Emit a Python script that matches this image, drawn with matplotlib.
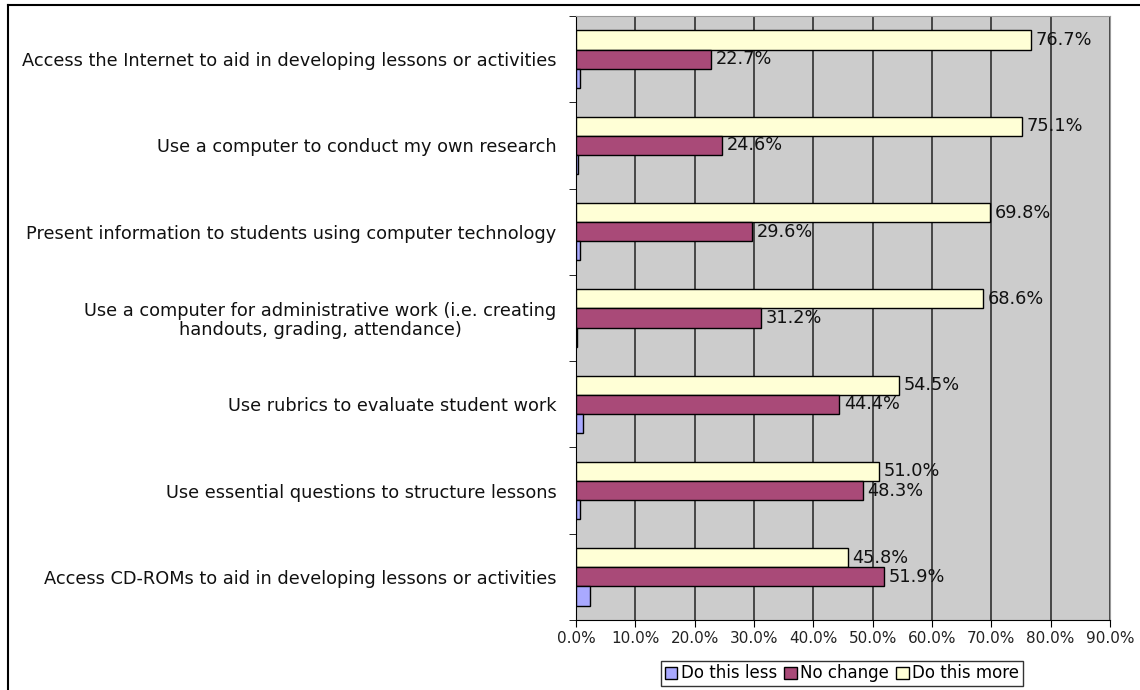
import numpy as np
import matplotlib.pyplot as plt
from matplotlib.lines import Line2D

# survey items, top to bottom
items = ['Access the Internet to aid in developing lessons or activities',
         'Use a computer to conduct my own research',
         'Present information to students using computer technology',
         'Use a computer for administrative work (i.e. creating\nhandouts, grading, attendance)',
         'Use rubrics to evaluate student work',
         'Use essential questions to structure lessons',
         'Access CD-ROMs to aid in developing lessons or activities']

less = [0.6, 0.3, 0.6, 0.2, 1.1, 0.7, 2.3]
no_change = [22.7, 24.6, 29.6, 31.2, 44.4, 48.3, 51.9]
more = [76.7, 75.1, 69.8, 68.6, 54.5, 51.0, 45.8]

c_less = '#a9a9ff'
c_none = '#a94a78'
c_more = '#ffffd6'

fig = plt.figure(figsize=(11.4, 6.9), dpi=100)
ax = fig.add_axes([576/1140, 1-620/690, (1110-576)/1140, (620-16)/690])
ax.set_facecolor('#cccccc')

y = np.arange(len(items))
h = 0.222
b_more = ax.barh(y - h, more, height=h, color=c_more, edgecolor='black', linewidth=1, zorder=3)
b_none = ax.barh(y, no_change, height=h, color=c_none, edgecolor='black', linewidth=1, zorder=3)
b_less = ax.barh(y + h, less, height=h, color=c_less, edgecolor='black', linewidth=1, zorder=3)

for bars, vals in [(b_more, more), (b_none, no_change)]:
    for rect, v in zip(bars, vals):
        ax.text(v + 0.8, rect.get_y() + rect.get_height()/2, '%.1f%%' % v,
                va='center', ha='left', fontsize=12.8, color='#111111', zorder=4)

ax.set_xlim(0, 90)
ax.set_ylim(len(items) - 0.5, -0.5)
ax.set_xticks(np.arange(0, 91, 10))
ax.set_xticklabels(['%.1f%%' % v for v in np.arange(0, 91, 10)], fontsize=11, color='#222222')
ax.xaxis.grid(True, color='#222222', linewidth=1.1, zorder=1)

# category labels at centers, tick marks at the boundaries
ax.set_yticks(y)
ax.set_yticklabels(items, fontsize=12.8, color='#111111')
ax.tick_params(axis='y', length=0, pad=14)
ax.set_yticks(np.arange(len(items) + 1) - 0.5, minor=True)
ax.tick_params(axis='y', which='minor', length=5, direction='out', color='black')
ax.tick_params(axis='x', length=5, direction='out', color='black', pad=3)
for t in ax.get_yticklabels():
    t.set_multialignment('center')
    t.set_linespacing(1.05)

ax.spines['left'].set_color('black')
ax.spines['bottom'].set_color('black')
ax.spines['top'].set_color('#999999')
ax.spines['right'].set_color('#999999')

handles = [plt.Rectangle((0, 0), 1, 1, facecolor=c, edgecolor='black') for c in (c_less, c_none, c_more)]
leg = fig.legend(handles, ['Do this less', 'No change', 'Do this more'], loc='center',
                 bbox_to_anchor=(842/1140, 1-673.5/690), ncol=3, fontsize=12, frameon=True,
                 fancybox=False, edgecolor='black', handlelength=0.75, handleheight=0.75,
                 handletextpad=0.2, columnspacing=0.45, borderpad=0.2, borderaxespad=0)
leg.get_frame().set_linewidth(1)

# outer chart border (top and left edges)
fig.add_artist(Line2D([8/1140, 1], [1-5/690, 1-5/690], color='black', linewidth=1.5))
fig.add_artist(Line2D([8/1140, 8/1140], [0, 1-5/690], color='black', linewidth=1.5))

fig.savefig('out.png', dpi=100)
